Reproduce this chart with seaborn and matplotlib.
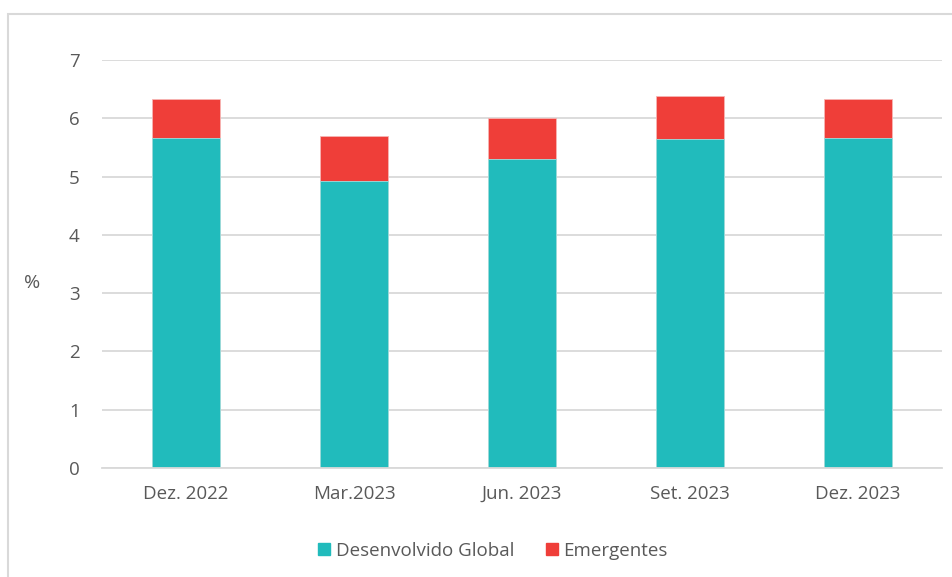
import pandas as pd
import matplotlib
matplotlib.use("Agg")
import matplotlib.pyplot as plt
import seaborn as sns
from matplotlib.patches import Rectangle
from matplotlib.lines import Line2D

periodos = ["Dez. 2022", "Mar.2023", "Jun. 2023", "Set. 2023", "Dez. 2023"]
desenvolvido = [5.66, 4.93, 5.31, 5.64, 5.66]
emergentes = [0.67, 0.77, 0.70, 0.74, 0.67]

TEAL = "#21BBBC"
RED = "#EF3E39"
GRAY = "#595959"

df = pd.DataFrame({"periodo": periodos, "desenvolvido": desenvolvido, "emergentes": emergentes})
df["total"] = df["desenvolvido"] + df["emergentes"]

sns.set_style("white")
plt.rcParams["font.family"] = ["Open Sans", "DejaVu Sans"]

fig = plt.figure(figsize=(9.52, 5.77), dpi=100)
ax = fig.add_axes([102 / 952, 109 / 577, 840 / 952, 408 / 577])

sns.barplot(data=df, x="periodo", y="total", color=RED, width=0.405, ax=ax,
            saturation=1, edgecolor="#f7b5b3", linewidth=0.6)
sns.barplot(data=df, x="periodo", y="desenvolvido", color=TEAL, width=0.405, ax=ax,
            saturation=1, edgecolor="#9fe0e0", linewidth=0.6)

ax.set_ylim(0, 7)
ax.set_yticks(range(0, 8))
ax.yaxis.grid(True, color="#d9d9d9", linewidth=1.3)
ax.set_axisbelow(True)
for s in ax.spines.values():
    s.set_visible(False)
ax.spines["bottom"].set_visible(True)
ax.spines["bottom"].set_color("#d9d9d9")
ax.spines["bottom"].set_linewidth(1.3)
ax.tick_params(axis="both", length=0, labelsize=13.5, colors=GRAY)
ax.tick_params(axis="y", pad=16)
ax.tick_params(axis="x", pad=12)
ax.set_xlabel("")
ax.set_ylabel("")
fig.text(32 / 952, 1 - 283 / 577, "%", ha="center", va="center", fontsize=14, color=GRAY)

handles = [Line2D([], [], marker="s", linestyle="", color=TEAL, markersize=8),
           Line2D([], [], marker="s", linestyle="", color=RED, markersize=8)]
fig.legend(handles, ["Desenvolvido Global", "Emergentes"], loc="center",
           bbox_to_anchor=(492 / 952, 1 - 551 / 577), ncol=2, frameon=False,
           fontsize=13.5, labelcolor=GRAY, handlelength=0.8, handletextpad=0.2,
           columnspacing=1.6)

# moldura do gráfico
fig.patches.append(Rectangle((8 / 952, -0.1), 1.1, 1 - 14 / 577 + 0.1, transform=fig.transFigure,
                             fill=False, edgecolor="#d9d9d9", linewidth=1.5))

fig.savefig("out.png", dpi=100, facecolor="white")
